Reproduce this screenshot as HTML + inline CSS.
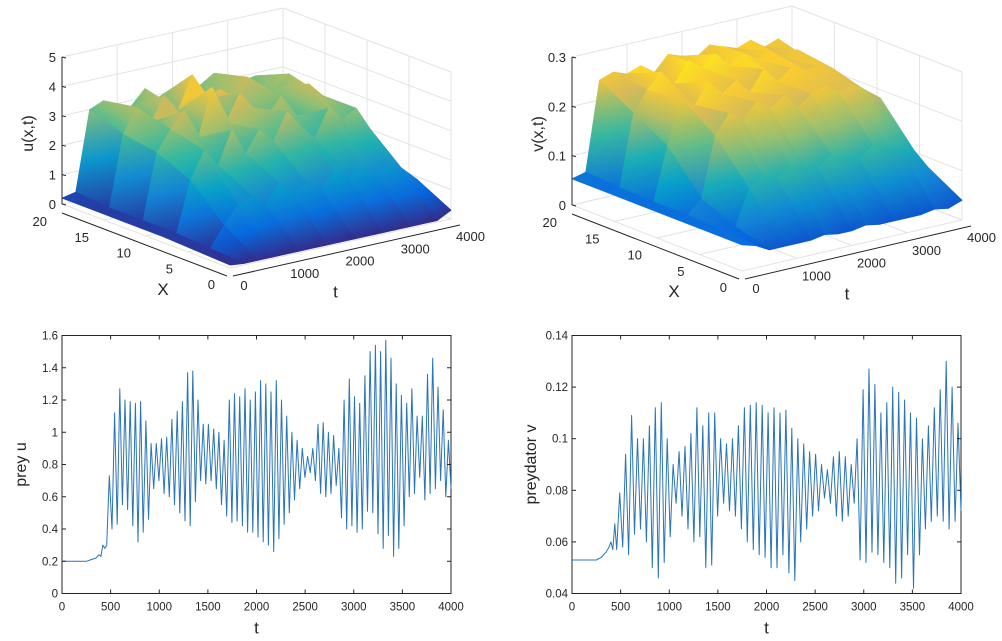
<!DOCTYPE html>
<html><head><meta charset="utf-8">
<style>
html,body{margin:0;padding:0;background:#fff;}
svg{display:block;font-family:"Liberation Sans",sans-serif;}
</style></head>
<body>
<svg id="fig" width="1002" height="641" viewBox="0 0 1002 641" xmlns="http://www.w3.org/2000/svg">
<defs id="defs"></defs>
<g id="p1"></g>
<g id="p2"></g>
<g id="p3"></g>
<g id="p4"></g>
</svg>
<script>
// ---- surface data ----
const gridX = [0, 4, 8, 12, 16, 20];
const gridT = [0,250,500,750,1000,1250,1500,1750,2000,2250,2500,2750,3000,3250,3500,3750,4000];
const uRowX0  = [0.1,0.05,0.05,0.05,0.05,0.05,0.05,0.05,0.05,0.05,0.05,0.05,0.05,0.05,0.05,0.05,0.3];
const uRowX4  = [0.15,0.12,0.8,1.4,1.6,1.2,1.8,1.4,1.6,1.3,1.8,1.5,1.7,1.4,1.6,1.3,0.9];
const uRowX8  = [0.2,0.2,1.9,2.8,2.2,3.3,2.4,3.1,2.6,3.5,2.9,2.4,3.3,2.8,3.1,2.3,1.3];
const uRowX12 = [0.2,0.2,2.4,3.1,3.6,2.6,4.2,2.9,3.8,3.2,2.8,3.4,2.6,3.6,3.1,2.6,1.6];
const uRowX16 = [0.2,0.2,2.6,3.4,2.8,3.6,3.0,4.1,3.2,3.4,3.1,3.6,3.2,3.0,3.4,2.8,1.9];
const uRowX20 = [0.2,0.3,3.0,3.2,3.0,2.8,3.3,2.9,3.1,2.6,3.0,3.3,3.1,2.8,2.9,2.6,2.2];
const vRowX0  = [0.053,0.045,0.03,0.03,0.03,0.03,0.035,0.03,0.03,0.035,0.03,0.03,0.03,0.03,0.035,0.03,0.04];
const vRowX4  = [0.053,0.05,0.05,0.12,0.14,0.13,0.15,0.14,0.13,0.15,0.14,0.13,0.15,0.14,0.13,0.12,0.08];
const vRowX8  = [0.053,0.053,0.08,0.2,0.24,0.22,0.25,0.23,0.25,0.22,0.24,0.25,0.23,0.24,0.22,0.2,0.12];
const vRowX12 = [0.053,0.053,0.16,0.25,0.23,0.27,0.24,0.26,0.23,0.27,0.24,0.26,0.25,0.25,0.24,0.21,0.15];
const vRowX16 = [0.053,0.055,0.2,0.24,0.27,0.24,0.28,0.26,0.28,0.25,0.27,0.25,0.26,0.24,0.25,0.22,0.18];
const vRowX20 = [0.053,0.06,0.24,0.25,0.24,0.25,0.23,0.26,0.25,0.24,0.26,0.25,0.24,0.25,0.23,0.24,0.2];
const uZTicks = [0,1,2,3,4,5];
const vZTicks = [0,0.1,0.2,0.3];
const xTicks3 = [0,5,10,15,20];
const tTicks3 = [0,1000,2000,3000,4000];

// ---- time series data ----
const uPreT = [0,250,300,350,380,400,420,440];
const uPre  = [0.2,0.2,0.21,0.22,0.24,0.23,0.3,0.28];
const uOscStart = 460, uOscEnd = 4000;
const uOsc = [0.3,0.73,0.4,1.12,0.43,1.27,0.55,1.2,0.52,1.19,0.42,1.18,0.32,1.19,0.38,1.07,0.46,0.93,0.65,0.93,0.7,0.96,0.62,0.97,0.6,1.08,0.55,1.13,0.5,1.19,0.45,1.37,0.42,1.38,0.57,1.2,0.7,1.05,0.68,1.05,0.7,1.02,0.65,1.0,0.55,0.95,0.48,1.2,0.44,1.24,0.45,1.22,0.42,1.27,0.38,1.2,0.38,1.25,0.35,1.32,0.32,1.3,0.3,1.25,0.26,1.32,0.34,1.2,0.43,1.1,0.5,1.0,0.58,0.95,0.65,0.9,0.72,0.85,0.75,0.9,0.7,1.05,0.62,1.06,0.6,1.0,0.62,0.98,0.67,0.9,0.47,1.2,0.4,1.33,0.42,1.22,0.38,1.18,0.4,1.35,0.51,1.5,0.5,1.54,0.37,1.5,0.28,1.57,0.36,1.46,0.23,1.3,0.28,1.23,0.42,1.18,0.6,1.27,0.62,1.1,0.72,1.1,0.58,1.36,0.62,1.46,0.65,1.28,0.7,1.14,0.6,0.95,0.65];
const vPreT = [0,250,300,350,380,400,420,440];
const vPre  = [0.053,0.053,0.054,0.056,0.058,0.06,0.057,0.067];
const vOscStart = 460, vOscEnd = 4000;
const vOsc = [0.057,0.079,0.058,0.094,0.055,0.109,0.063,0.1,0.065,0.1,0.06,0.105,0.05,0.112,0.046,0.114,0.052,0.1,0.062,0.09,0.075,0.095,0.07,0.097,0.065,0.102,0.06,0.112,0.062,0.105,0.05,0.11,0.051,0.11,0.07,0.1,0.075,0.098,0.072,0.1,0.07,0.105,0.065,0.112,0.06,0.113,0.057,0.114,0.055,0.113,0.054,0.11,0.05,0.112,0.05,0.11,0.055,0.111,0.048,0.104,0.045,0.1,0.06,0.098,0.065,0.095,0.07,0.094,0.072,0.09,0.077,0.088,0.075,0.093,0.07,0.095,0.068,0.093,0.07,0.09,0.075,0.1,0.053,0.119,0.052,0.127,0.056,0.121,0.055,0.11,0.052,0.114,0.05,0.12,0.044,0.118,0.046,0.115,0.055,0.11,0.042,0.108,0.055,0.1,0.065,0.105,0.068,0.112,0.07,0.119,0.068,0.13,0.065,0.12,0.068,0.106,0.072];
const uYTicks = [0,0.2,0.4,0.6,0.8,1,1.2,1.4,1.6];
const vYTicks = [0.04,0.06,0.08,0.1,0.12,0.14];
const tTicks = [0,500,1000,1500,2000,2500,3000,3500,4000];

const NS = "http://www.w3.org/2000/svg";
function mk(tag, attrs, parent){const e=document.createElementNS(NS,tag);for(const k in attrs)e.setAttribute(k,attrs[k]);if(parent)parent.appendChild(e);return e;}
const defs=document.getElementById('defs');
let gid=0;
const parula=[[53,42,135],[3,99,225],[20,129,214],[6,167,198],[56,185,158],[146,191,115],[217,186,86],[252,206,46],[249,251,14]];
function cmap(f){f=Math.max(0,Math.min(1,f));const p=f*8,i=Math.min(7,Math.floor(p)),r=p-i;const a=parula[i],b=parula[i+1];return 'rgb('+a.map((v,k)=>Math.round(v+(b[k]-v)*r)).join(',')+')';}

function surface(g, O, dX, dT, zPx, zMax, rows, zTicks, zLab, zFmt){
  const P=(X,t,z)=>[O[0]+dX[0]*X/20+dT[0]*t/4000, O[1]+dX[1]*X/20+dT[1]*t/4000 - z/zMax*zPx];
  const grid=mk('g',{},g);
  
  
  const gl={stroke:'#e3e3e3','stroke-width':1,fill:'none'};
  const line=(a,b,par,st)=>mk('line',Object.assign({x1:a[0],y1:a[1],x2:b[0],y2:b[1]},st||gl),par);
  zTicks.forEach(z=>{line(P(20,0,z),P(20,4000,z),grid);line(P(20,4000,z),P(0,4000,z),grid);});
  tTicks3.forEach(t=>{line(P(20,t,0),P(20,t,zMax),grid);line(P(0,t,0),P(20,t,0),grid);});
  xTicks3.forEach(x=>{line(P(x,4000,0),P(x,4000,zMax),grid);line(P(x,0,0),P(x,4000,0),grid);});
  const sg=mk('g',{},g);
  
  
  const quads=[];
  for(let i=0;i<gridX.length-1;i++)for(let j=0;j<gridT.length-1;j++){
    quads.push({i,j,d:(gridX[i]+gridX[i+1])/40+(gridT[j]+gridT[j+1])/8000});
  }
  quads.sort((a,b)=>b.d-a.d);
  quads.forEach(q=>{
    const {i,j}=q;
    const vs=[[i,j],[i,j+1],[i+1,j+1],[i+1,j]].map(([a,b])=>({p:P(gridX[a],gridT[b],rows[a][b]),z:rows[a][b]}));
    let mn=vs[0],mx=vs[0];vs.forEach(v=>{if(v.z<mn.z)mn=v;if(v.z>mx.z)mx=v;});
    const id='sg'+(gid++);
    const lg=mk('linearGradient',{id,gradientUnits:'userSpaceOnUse',x1:mn.p[0],y1:mn.p[1],x2:mx.p[0],y2:mx.p[1]+(mx===mn?1:0)},defs);
    mk('stop',{offset:0,'stop-color':cmap(mn.z/zMax)},lg);
    mk('stop',{offset:0.5,'stop-color':cmap((mn.z*0.5+mx.z*0.5)/zMax)},lg);
    mk('stop',{offset:1,'stop-color':cmap(mx.z/zMax)},lg);
    const pg=mk('polygon',{points:vs.map(v=>v.p.join(',')).join(' '),fill:'url(#'+id+')',stroke:'url(#'+id+')','stroke-width':0.8,'stroke-linejoin':'round'},sg);
    
    
  });
  const ax={stroke:'#262626','stroke-width':1};
  const zl=line(P(20,0,0),P(20,0,zMax),g,ax);  
  const xl=line([P(20,0,0)[0],P(20,0,0)[1]+9],[P(0,0,0)[0]-3,P(0,0,0)[1]+8],g,ax);  
  const tl=line([P(0,0,0)[0]+3,P(0,0,0)[1]+8],[P(0,4000,0)[0]+9,P(0,4000,0)[1]+6],g,ax);  
  zTicks.forEach(z=>{const p=P(20,0,z);line(p,[p[0]+4,p[1]+1],g,ax);
    const tx=mk('text',{x:p[0]-6,y:p[1]+5,'text-anchor':'end','font-size':13,fill:'#262626'},g);tx.textContent=zFmt(z);
    });
  xTicks3.forEach(x=>{const a=P(x,0,0);const px=a[0]-3,py=a[1]+8+(x/20);
    const tx=mk('text',{x:px-12,y:py+13,'text-anchor':'end','font-size':13,fill:'#262626'},g);tx.textContent=x;
    });
  tTicks3.forEach(t=>{const a=P(0,t,0);
    const tx=mk('text',{x:a[0]+14,y:a[1]+22,'text-anchor':t===0?'middle':'start','font-size':13,fill:'#262626'},g);tx.textContent=t;
    if(t>0){tx.setAttribute('x',a[0]+5);}
    });
  const xa=P(10,0,0),ta=P(0,2000,0),za=P(20,0,zMax/2);
  let e=mk('text',{x:xa[0]+17,y:xa[1]+59,'text-anchor':'middle','font-size':17,fill:'#262626'},g);e.textContent='X';
  
  e=mk('text',{x:ta[0]-5,y:ta[1]+54,'text-anchor':'middle','font-size':17,fill:'#262626'},g);e.textContent='t';
  
  e=mk('text',{x:0,y:0,'text-anchor':'middle','font-size':16,fill:'#262626',transform:'translate('+(za[0]-29)+','+(za[1]+3)+') rotate(-90)'},g);e.textContent=zLab;
  
}

surface(document.getElementById('p1'),[230,268],[-168,-64],[221,-49],147,5,
  [uRowX0,uRowX4,uRowX8,uRowX12,uRowX16,uRowX20],uZTicks,'u(x,t)',z=>String(z));
surface(document.getElementById('p2'),[742,271],[-170,-66],[220,-51],148,0.3,
  [vRowX0,vRowX4,vRowX8,vRowX12,vRowX16,vRowX20],vZTicks,'v(x,t)',z=>z===0?'0':z.toFixed(1));

function linePlot(g, box, yMin, yMax, yTicks, yFmt, preT, pre, oStart, oEnd, osc, yLab){
  const [L,T,R,B]=box;
  const sx=t=>L+(R-L)*t/4000, sy=v=>B-(B-T)*(v-yMin)/(yMax-yMin);
  const fr=mk('rect',{x:L,y:T,width:R-L,height:B-T,fill:'#fff',stroke:'#262626','stroke-width':1},g);
  
  const ts=[...preT], vs=[...pre];
  const step=(oEnd-oStart)/(osc.length-1);
  osc.forEach((v,k)=>{ts.push(oStart+k*step);vs.push(v);});
  const d=ts.map((t,k)=>(k?'L':'M')+sx(t).toFixed(1)+','+sy(vs[k]).toFixed(1)).join(' ');
  const p=mk('path',{d,fill:'none',stroke:'#2a74b8','stroke-width':1,'stroke-linejoin':'round'},g);
  
  const ax={stroke:'#262626','stroke-width':1};
  yTicks.forEach(v=>{const y=sy(v);mk('line',Object.assign({x1:L,y1:y,x2:L+4,y2:y},ax),g);mk('line',Object.assign({x1:R,y1:y,x2:R-4,y2:y},ax),g);
    const tx=mk('text',{x:L-4,y:y+4,'text-anchor':'end','font-size':11.5,fill:'#262626'},g);tx.textContent=yFmt(v);
    });
  tTicks.forEach(t=>{const x=sx(t);mk('line',Object.assign({x1:x,y1:B,x2:x,y2:B-4},ax),g);mk('line',Object.assign({x1:x,y1:T,x2:x,y2:T+4},ax),g);
    const tx=mk('text',{x:x,y:B+17,'text-anchor':'middle','font-size':11.5,fill:'#262626'},g);tx.textContent=t;
    });
  let e=mk('text',{x:(L+R)/2,y:B+40,'text-anchor':'middle','font-size':17,fill:'#262626'},g);e.textContent='t';
  
  e=mk('text',{x:0,y:0,'text-anchor':'middle','font-size':16,fill:'#262626',transform:'translate('+(L-36)+','+((T+B)/2)+') rotate(-90)'},g);e.textContent=yLab;
  
}
linePlot(document.getElementById('p3'),[62,335.5,451,593.5],0,1.6,uYTicks,v=>String(Math.round(v*10)/10),uPreT,uPre,uOscStart,uOscEnd,uOsc,'prey u');
linePlot(document.getElementById('p4'),[572,335.5,961,593.5],0.04,0.14,vYTicks,v=>v.toFixed(2).replace(/0$/,'').replace(/\.$/,''),vPreT,vPre,vOscStart,vOscEnd,vOsc,'preydator v');
</script>
</body></html>
